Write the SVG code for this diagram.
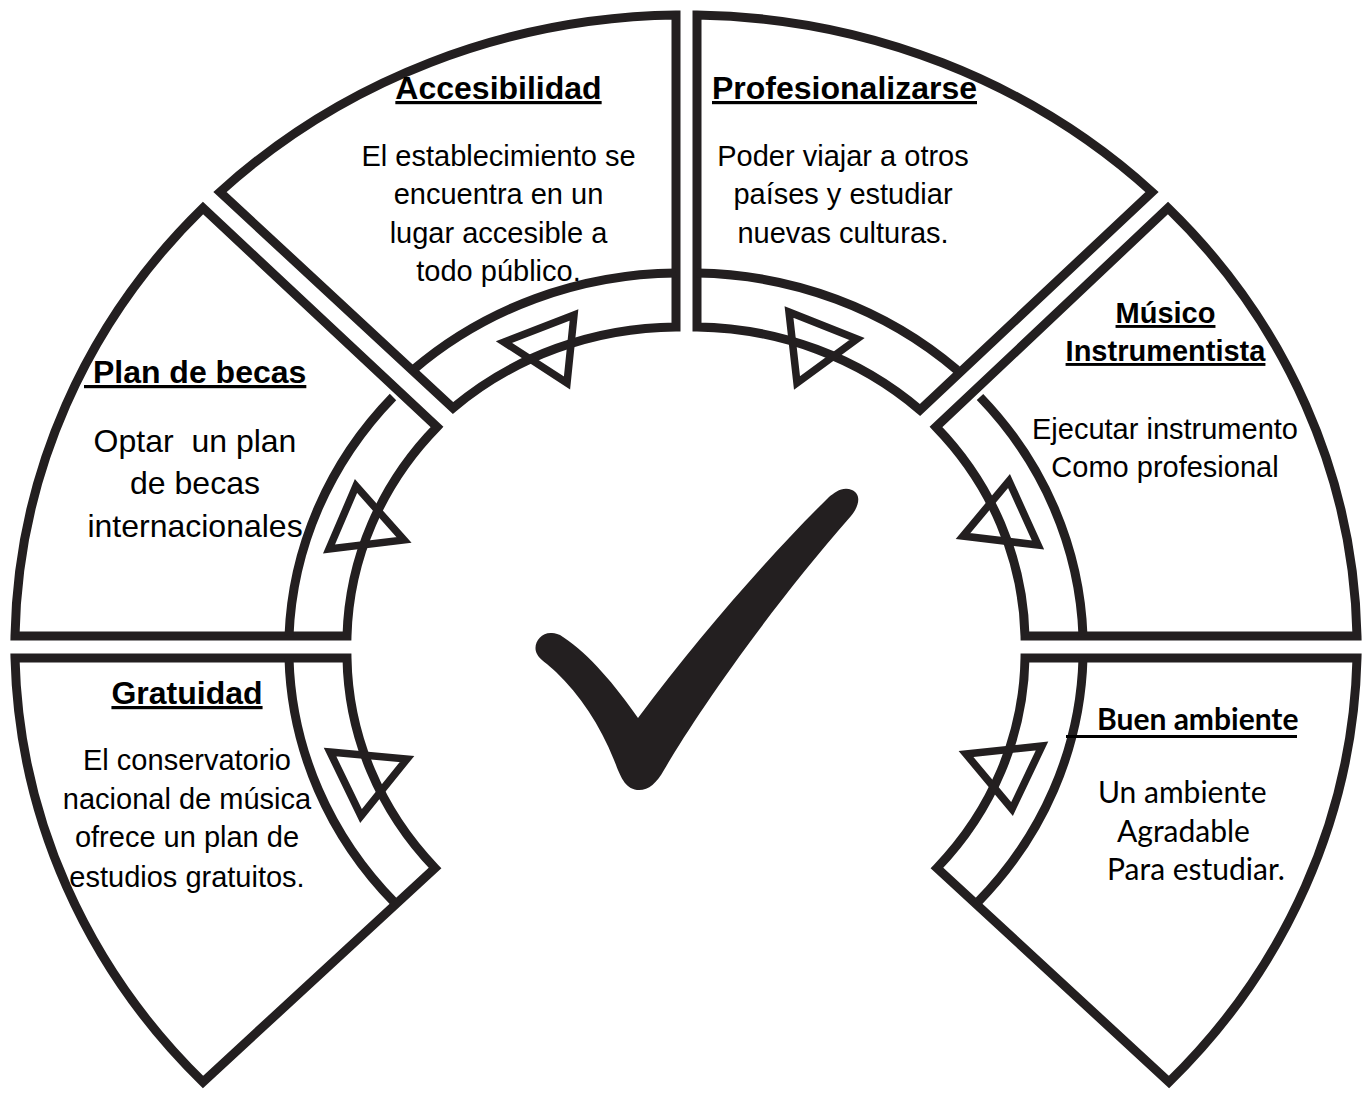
<svg xmlns="http://www.w3.org/2000/svg" width="1364" height="1093" viewBox="0 0 1364 1093">
<style>
.sec{fill:#fff;stroke:#231f20;stroke-width:9;stroke-linejoin:miter;stroke-miterlimit:10}
.div{fill:none;stroke:#231f20;stroke-width:9}
.tri{fill:none;stroke:#231f20;stroke-width:7.5;stroke-linejoin:miter;stroke-miterlimit:10}
.t{font-family:"Liberation Sans",Arial,sans-serif;font-size:29px;fill:#000;text-anchor:middle}
.t32{font-size:32px}
.h{font-family:"Liberation Sans",Arial,sans-serif;font-size:32px;font-weight:bold;fill:#000;text-decoration:underline;text-anchor:middle}
.h29{font-size:29px}
.c{font-family:Lato,"Liberation Sans",sans-serif;font-size:30px;fill:#000}
</style>
<rect width="1364" height="1093" fill="#fff"/>

<g id="accesibilidad">
<path class="sec" d="M676,15 A671,632 0 0 0 220,192 L453,408 A339,320 0 0 1 676,327 Z"/>
<path class="div" d="M413,370 A397,374 0 0 1 676,273"/>
<text class="h" x="498.5" y="99">Accesibilidad</text>
<text class="t" x="498.5" y="166">El establecimiento se</text>
<text class="t" x="498.5" y="204">encuentra en un</text>
<text class="t" x="498.5" y="243">lugar accesible a</text>
<text class="t" x="498.5" y="281">todo público.</text>
</g>

<g id="profesionalizarse">
<path class="sec" d="M697,15 A671,632 0 0 1 1152,192 L920,410 A339,320 0 0 0 697,327 Z"/>
<path class="div" d="M697,273 A397,374 0 0 1 957,370"/>
<text class="h" x="844.5" y="99">Profesionalizarse</text>
<text class="t" x="843" y="166">Poder viajar a otros</text>
<text class="t" x="843" y="204">países y estudiar</text>
<text class="t" x="843" y="243">nuevas culturas.</text>
</g>

<g id="plan-de-becas">
<path class="sec" d="M203,208 A671,632 0 0 0 15,636 L347,636 A339,320 0 0 1 437,427 Z"/>
<path class="div" d="M289,636 A397,374 0 0 1 393,397"/>
<text class="h" x="84" y="383" style="text-anchor:start" xml:space="preserve"> Plan de becas</text>
<text class="t t32" x="195" y="452" xml:space="preserve">Optar  un plan</text>
<text class="t t32" x="195" y="494">de becas</text>
<text class="t t32" x="195" y="537">internacionales</text>
</g>

<g id="musico-instrumentista">
<path class="sec" d="M1168,208 A671,632 0 0 1 1357,636 L1025,636 A339,320 0 0 0 936,427 Z"/>
<path class="div" d="M1083,636 A397,374 0 0 0 980,397"/>
<text class="h h29" x="1165.5" y="323">Músico</text>
<text class="h h29" x="1165.5" y="361">Instrumentista</text>
<text class="t" x="1165" y="439">Ejecutar instrumento</text>
<text class="t" x="1165" y="477">Como profesional</text>
</g>

<g id="gratuidad">
<path class="sec" d="M15,658 A671,632 0 0 0 203,1082 L435,868 A339,320 0 0 1 347,658 Z"/>
<path class="div" d="M289,658 A397,374 0 0 0 395,903"/>
<text class="h" x="187" y="704">Gratuidad</text>
<text class="t" x="187" y="770">El conservatorio</text>
<text class="t" x="187" y="809">nacional de música</text>
<text class="t" x="187" y="847">ofrece un plan de</text>
<text class="t" x="187" y="887">estudios gratuitos.</text>
</g>

<g id="buen-ambiente">
<path class="sec" d="M1357,658 A671,632 0 0 1 1169,1082 L937,868 A339,320 0 0 0 1025,658 Z"/>
<path class="div" d="M1083,658 A397,374 0 0 1 977,903"/>
<text class="c" x="1097" y="730" font-weight="bold">Buen ambiente</text>
<rect x="1066" y="735" width="231" height="3" fill="#000"/>
<text class="c" x="1098" y="803">Un ambiente</text>
<text class="c" x="1117" y="842">Agradable</text>
<text class="c" x="1107" y="880">Para estudiar.</text>
</g>

<g id="connectors">
<polygon class="tri" points="574,315 504,342 567,383"/>
<polygon class="tri" points="789,312 857,339 797,383"/>
<polygon class="tri" points="356,486 404,540 329,549"/>
<polygon class="tri" points="1009,481 1038,545 963,536"/>
<polygon class="tri" points="330,752 407,759 361,816"/>
<polygon class="tri" points="966,754 1042,746 1012,809"/>
</g>

<g id="checkmark">
<path fill="#231f20" d="M552,633 C540,632 532,645 537,654 C540,660 548,664 556,672 C580,695 600,725 614,760 C620,775 624,788 637,790 C648,791 656,784 664,770 C690,725 760,620 851,516 C860,505 861,494 852,490 C843,486 835,492 829,497 C770,555 700,635 638,718 C615,685 590,655 563,637 C559,634 555,633 552,633 Z"/>
</g>
</svg>
